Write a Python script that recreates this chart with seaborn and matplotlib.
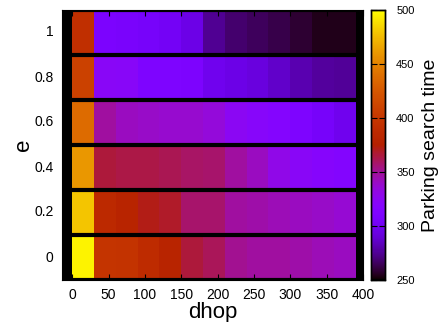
import numpy as np
import pandas as pd
import matplotlib
matplotlib.use("Agg")
import matplotlib.pyplot as plt
import seaborn as sns

# dhop values (left edge of each cell), cells are 30 wide
dhop = [0, 30, 60, 90, 120, 150, 180, 210, 240, 270, 300, 330, 360]
e_values = [0, 0.2, 0.4, 0.6, 0.8, 1]
e_labels = ["0", "0.2", "0.4", "0.6", "0.8", "1"]

search_e00 = [496, 397, 396, 388, 380, 366, 361, 351, 348, 348, 346, 343, 341]
search_e02 = [479, 386, 380, 372, 369, 358, 358, 348, 346, 343, 341, 339, 336]
search_e04 = [459, 366, 364, 364, 362, 359, 358, 348, 341, 330, 323, 319, 316]
search_e06 = [437, 348, 341, 339, 337, 337, 334, 325, 321, 317, 311, 305, 298]
search_e08 = [409, 323, 322, 311, 311, 310, 298, 295, 292, 287, 281, 277, 276]
search_e10 = [392, 309, 307, 305, 302, 295, 275, 268, 265, 262, 258, 254, 254]

x_ticks = [0, 50, 100, 150, 200, 250, 300, 350, 400]
cbar_ticks = [250, 300, 350, 400, 450, 500]

plt.rcParams["font.family"] = ["Liberation Sans", "DejaVu Sans"]

rows = [search_e10, search_e08, search_e06, search_e04, search_e02, search_e00]
df = pd.DataFrame(rows, index=e_labels[::-1], columns=dhop)

fig = plt.figure(figsize=(4.39, 3.22), dpi=100)
ax = fig.add_axes([62 / 439, 1 - 280 / 322, 301 / 439, 270 / 322])
cax = fig.add_axes([371 / 439, 1 - 280 / 322, 14 / 439, 270 / 322])

ax.set_facecolor("black")
sns.heatmap(df, ax=ax, cbar_ax=cax, cmap="gnuplot", vmin=250, vmax=500,
            cbar_kws={"ticks": cbar_ticks})

# black separators between the e rows
for b in range(len(e_values) + 1):
    ax.axhline(b, color="black", lw=3.0)

step = dhop[1] - dhop[0]
ax.set_xlim(-14 / step, 400 / step)
ax.set_ylim(len(e_values), 0)
ax.set_xticks([v / step for v in x_ticks])
ax.set_xticklabels([str(v) for v in x_ticks], rotation=0)
ax.set_yticks([i + 0.5 for i in range(len(e_values))])
ax.set_yticklabels(e_labels[::-1], rotation=0)
ax.tick_params(axis="x", direction="in", top=True, bottom=True, length=4,
               color="black", labelsize=10, pad=6)
ax.tick_params(axis="y", direction="in", left=True, right=True, length=4,
               color="black", labelsize=10, pad=6)
for s in ax.spines.values():
    s.set_visible(True)
    s.set_color("black")
ax.set_xlabel("dhop", fontsize=16, labelpad=0)
ax.set_ylabel("e", fontsize=16, labelpad=0)

cax.tick_params(direction="in", left=True, right=True, length=4,
                color="black", labelsize=8, pad=8)
cax.set_ylabel("Parking search time", fontsize=14, labelpad=5)
for s in cax.spines.values():
    s.set_visible(True)
    s.set_color("black")
    s.set_linewidth(1)

fig.savefig("out.png", dpi=100)
